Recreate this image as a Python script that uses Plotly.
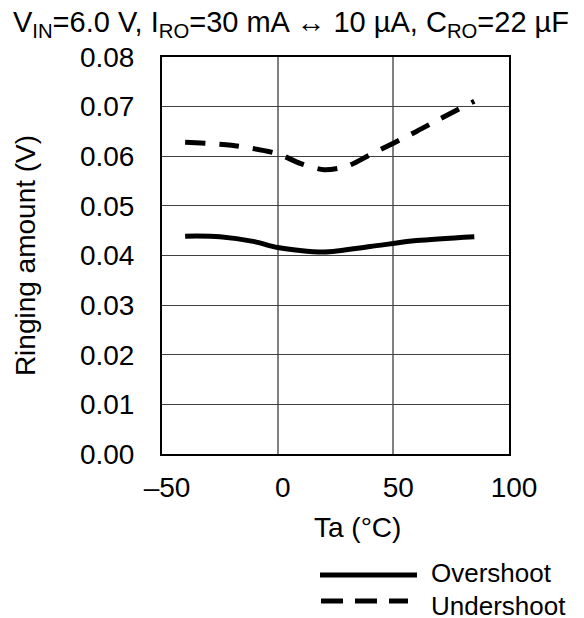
import plotly.graph_objects as go

# ---- data ----
temp_over = [-40, -25, -10, 0, 20, 40, 60, 85]
overshoot = [0.0439, 0.0438, 0.0428, 0.0416, 0.0407, 0.0418, 0.0430, 0.0438]

temp_under = [-40, -20, 0, 10, 20, 30, 40, 60, 70, 85]
undershoot = [0.0628, 0.0622, 0.0605, 0.0585, 0.0573, 0.0580, 0.0603, 0.0650, 0.0675, 0.0711]

x_tickvals = [-50, 0, 50, 100]
x_ticktext = ["\u201350", "0", "50", "100"]
y_tickvals = [0.00, 0.01, 0.02, 0.03, 0.04, 0.05, 0.06, 0.07, 0.08]

series_names = ["Overshoot", "Undershoot"]

FONT = "Liberation Sans, Arial, sans-serif"
FS = 26
FT = 28

OFF = 8  # page body margin
W, H = 584, 618
# plot area in page pixels: x 162..509, y 57..454
PL, PR, PT, PB = 162, 509, 57, 454
L, T = PL - OFF, PT - OFF
PW, PH = PR - PL, PB - PT
R = W - L - PW
B = H - T - PH


def px_x(px):
    return (px - PL) / PW


def px_y(py):
    return (PB - py) / PH


fig = go.Figure()
fig.add_trace(go.Scatter(x=temp_over, y=overshoot, mode="lines", name=series_names[0],
                         line=dict(color="black", width=5, shape="spline", smoothing=0.8),
                         showlegend=False))
fig.add_trace(go.Scatter(x=temp_under, y=undershoot, mode="lines", name=series_names[1],
                         line=dict(color="black", width=5, dash="20px,14px", shape="spline", smoothing=0.8),
                         showlegend=False))

# manual legend (long sample lines)
fig.add_shape(type="line", xref="paper", yref="paper", x0=px_x(320), x1=px_x(417),
              y0=px_y(575), y1=px_y(575), line=dict(color="black", width=5))
fig.add_shape(type="line", xref="paper", yref="paper", x0=px_x(321), x1=px_x(408),
              y0=px_y(601), y1=px_y(601), line=dict(color="black", width=5, dash="22px,12px"))
fig.add_annotation(xref="paper", yref="paper", x=px_x(429), y=px_y(573), text=series_names[0],
                   showarrow=False, xanchor="left", yanchor="middle", font=dict(size=FS, color="black", family=FONT))
fig.add_annotation(xref="paper", yref="paper", x=px_x(429), y=px_y(606), text=series_names[1],
                   showarrow=False, xanchor="left", yanchor="middle", font=dict(size=FS, color="black", family=FONT))

# x axis title
fig.add_annotation(xref="paper", yref="paper", x=px_x(357), y=px_y(527), text="Ta (\u00b0C)",
                   showarrow=False, xanchor="center", yanchor="middle", font=dict(size=FT, color="black", family=FONT))

fig.update_layout(
    width=W, height=H,
    margin=dict(l=L, r=R, t=T, b=B),
    paper_bgcolor="white", plot_bgcolor="white",
    font=dict(family=FONT, size=FS, color="black"),
    title=dict(text="V<sub>IN</sub>=6.0 V, I<sub>RO</sub>=30 mA \u2194 10 \u00b5A, C<sub>RO</sub>=22 \u00b5F",
               x=(291 - OFF) / W, xref="container", xanchor="center",
               y=1 - (22 - OFF) / H, yref="container", yanchor="middle",
               font=dict(size=29, color="black", family=FONT)),
    showlegend=False,
)

fig.update_xaxes(range=[-50, 100], tickvals=x_tickvals, ticktext=x_ticktext,
                 showgrid=True, gridcolor="#808080", gridwidth=1.5,
                 showline=True, linecolor="black", linewidth=2, mirror=True,
                 ticks="", ticklabelstandoff=7, ticklabelshift=5, zeroline=False,
                 tickfont=dict(size=FT, family=FONT, color="black"))
fig.update_yaxes(range=[0, 0.08], tickvals=y_tickvals, tickformat=".2f",
                 showgrid=True, gridcolor="#404040", gridwidth=1,
                 showline=True, linecolor="black", linewidth=2, mirror=True,
                 ticks="", ticklabelstandoff=20, zeroline=False,
                 title=dict(text="Ringing amount (V)", standoff=36, font=dict(size=FT, family=FONT, color="black")),
                 tickfont=dict(size=FT, family=FONT, color="black"))

fig.write_html("out.html")
